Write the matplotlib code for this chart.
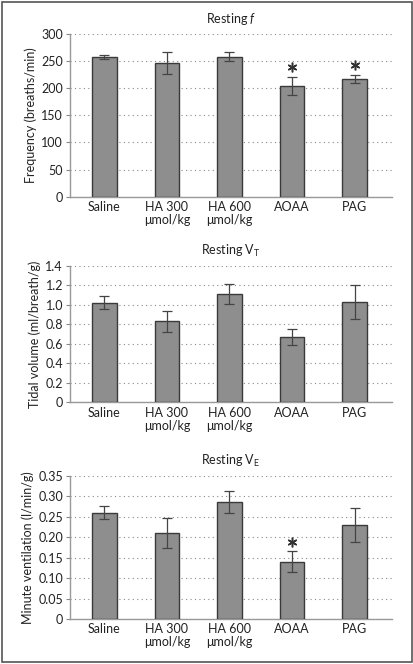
import matplotlib.pyplot as plt
import numpy as np

plt.rcParams['font.family'] = ['Lato', 'DejaVu Sans']
plt.rcParams['mathtext.fontset'] = 'custom'
plt.rcParams['mathtext.it'] = 'Lato:italic'
plt.rcParams['mathtext.rm'] = 'Lato'

groups = ['Saline', 'HA 300\nμmol/kg', 'HA 600\nμmol/kg', 'AOAA', 'PAG']

freq = [258, 247, 258, 204, 217]
freq_err = [3.5, 20, 8, 16, 6.5]
freq_sig = [False, False, False, True, True]

vt = [1.02, 0.83, 1.11, 0.67, 1.03]
vt_err = [0.065, 0.11, 0.105, 0.08, 0.175]
vt_sig = [False, False, False, False, False]

ve = [0.260, 0.210, 0.286, 0.140, 0.230]
ve_err = [0.017, 0.036, 0.027, 0.026, 0.041]
ve_sig = [False, False, False, True, False]

panels = [
    (freq, freq_err, freq_sig, r'Resting $\mathit{f}$', 'Frequency (breaths/min)',
     300, 50, '%d', [0.169, 0.7038, 0.778, 0.245]),
    (vt, vt_err, vt_sig, r'Resting V$_\mathrm{T}$', 'Tidal volume (ml/breath/g)',
     1.4, 0.2, '%.1f', [0.169, 0.394, 0.778, 0.2058]),
    (ve, ve_err, ve_sig, r'Resting V$_\mathrm{E}$', 'Minute ventilation (l/min/g)',
     0.35, 0.05, '%.2f', [0.169, 0.0678, 0.778, 0.2158]),
]

fig = plt.figure(figsize=(4.14, 6.64), dpi=100)
fig.patches.append(plt.Rectangle((0.004, 0.003), 0.992, 0.994, transform=fig.transFigure,
                                 fill=False, edgecolor='#555555', linewidth=1.2))

x = np.arange(len(groups))
for vals, errs, sig, title, ylabel, ymax, step, fmt, rect in panels:
    ax = fig.add_axes(rect)
    ax.bar(x, vals, width=0.39, color='#8e8e8e', edgecolor='#3a3a3a', linewidth=1.0, zorder=3)
    ax.errorbar(x, vals, yerr=errs, fmt='none', ecolor='#444444', elinewidth=0.9,
                capsize=3.5, capthick=0.9, zorder=4)
    for i in range(len(groups)):
        if sig[i]:
            # asterisk a little above the error bar
            ax.plot(x[i], vals[i] + errs[i] + 0.065 * ymax, marker=(6, 2, 0), ms=7,
                    mew=1.1, color='#333333', zorder=5)
    ticks = np.arange(0, ymax + step / 2, step)
    ax.set_yticks(ticks)
    ax.set_yticklabels(['0'] + [fmt % t for t in ticks[1:]])
    ax.set_ylim(0, ymax)
    ax.set_xlim(-0.55, 4.6)
    ax.set_xticks(x)
    ax.set_xticklabels(groups, fontsize=9, color='#222222', linespacing=1.1)
    ax.tick_params(axis='x', length=0, pad=3)
    ax.tick_params(axis='y', length=3, color='#888888', labelsize=9, labelcolor='#222222', pad=2)
    ax.yaxis.grid(True, linestyle=(0, (1, 3)), color='#888888', linewidth=0.8, zorder=0)
    for s in ['top', 'right']:
        ax.spines[s].set_visible(False)
    for s in ['left', 'bottom']:
        ax.spines[s].set_color('#999999')
        ax.spines[s].set_linewidth(1.0)
    ax.set_title(title, fontsize=9, color='#222222', pad=8)
    ax.set_ylabel(ylabel, fontsize=9, color='#222222', labelpad=3)

fig.savefig('out.png', dpi=100)
